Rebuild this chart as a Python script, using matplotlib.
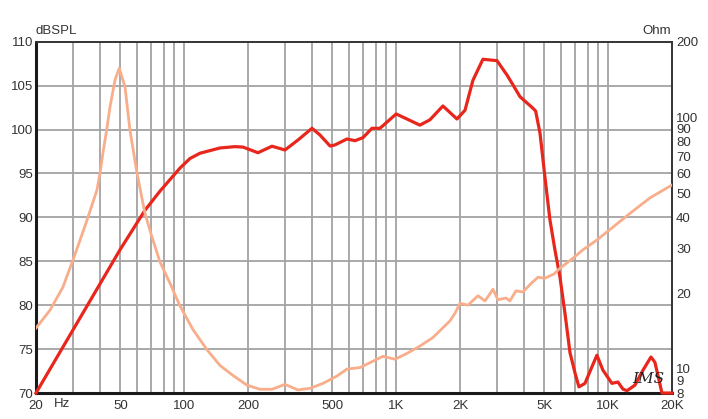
import matplotlib
matplotlib.use("Agg")
import matplotlib.pyplot as plt
from matplotlib.ticker import FixedLocator, NullLocator

# ==========================
# Data
# ==========================

# SPL response, dB
spl_freq = [20, 49.8, 65.3, 77, 95.5, 106.5, 118.7, 147.6, 173.6, 189.5,
            223, 259.6, 299, 344, 401, 437, 488, 514, 586, 640,
            697, 769, 839, 1000, 1124, 1294, 1442, 1662, 1936, 2113,
            2302, 2566, 2990, 3334, 3560, 3838, 4420, 4550, 4770, 5032,
            5316, 5610, 5926, 6254, 6607, 6975, 7280, 7775, 8390, 8850,
            9450, 10420, 11120, 11740, 12270, 13380, 14600, 15920, 16620, 17940,
            20000]
spl_db = [70, 86.3, 90.8, 93.0, 95.6, 96.7, 97.3, 97.9, 98.05, 98.0,
          97.36, 98.1, 97.67, 98.8, 100.14, 99.38, 98.12, 98.24, 98.92, 98.73,
          99.07, 100.14, 100.14, 101.77, 101.2, 100.5, 101.1, 102.68, 101.2, 102.2,
          105.6, 108.0, 107.84, 106.2, 105.07, 103.74, 102.42, 102.1, 99.6, 94.6,
          89.7, 86.3, 83.2, 79.1, 74.6, 72.3, 70.7, 71.1, 73.0, 74.3,
          72.6, 71.1, 71.25, 70.45, 70.26, 70.9, 72.6, 74.1, 73.5, 70.0,
          70.0]

# Impedance, Ohm
imp_freq = [20, 23.3, 26.8, 29.9, 32.3, 35.2, 38.8, 40.1, 41.6, 43.1,
            44.7, 47.2, 49.4, 52.6, 55.5, 59.9, 65.3, 70.5, 76.9, 85.7,
            95.5, 110.1, 128.1, 147.6, 169.9, 197.7, 228, 259.6, 299, 344,
            392, 452, 526, 586, 675, 769, 867, 987, 1124, 1294,
            1491, 1795, 1894, 2000, 2180, 2433, 2625, 2863, 3021, 3295,
            3440, 3673, 3963, 4373, 4666, 5032, 5548, 5926, 6824, 7602,
            8850, 12680, 15740, 20000]
imp_ohm = [14.5, 17.1, 21.1, 27.1, 32.5, 40.1, 51.4, 60.1, 74.1, 89.1,
           110, 141, 156.7, 132.4, 89, 60.1, 41.6, 33.4, 26.6, 21.9,
           17.8, 14.3, 11.9, 10.3, 9.4, 8.6, 8.28, 8.28, 8.66, 8.23,
           8.35, 8.74, 9.35, 9.96, 10.1, 10.66, 11.2, 10.9, 11.5, 12.3,
           13.3, 15.5, 16.6, 18.2, 17.9, 19.5, 18.6, 20.7, 18.8, 19.1,
           18.6, 20.4, 20.2, 22.0, 23.1, 22.9, 23.8, 25.1, 27.5, 29.7,
           32.5, 41.5, 47.8, 53.8]

x_ticks = [20, 50, 100, 200, 500, 1000, 2000, 5000, 10000, 20000]
x_labels = ["20", "50", "100", "200", "500", "1K", "2K", "5K", "10K", "20K"]
x_grid = [30, 40, 50, 60, 70, 80, 90,
          100, 200, 300, 400, 500, 600, 700, 800, 900,
          1000, 2000, 3000, 4000, 5000, 6000, 7000, 8000, 9000, 10000]

db_ticks = [70, 75, 80, 85, 90, 95, 100, 105, 110]
ohm_ticks = [8, 9, 10, 20, 30, 40, 50, 60, 70, 80, 90, 100, 200]

SPL_COLOR = "#e8261c"
IMP_COLOR = "#f8ad8b"
GRID_COLOR = "#a3a3a3"

plt.rcParams["font.family"] = ["Liberation Sans", "DejaVu Sans"]
plt.rcParams["font.size"] = 9.5

# ==========================
# Figure
# ==========================

fig = plt.figure(figsize=(7.08, 4.19), dpi=100)
ax = fig.add_axes([0.0508, 0.062, 0.8983, 0.8385])

ax.set_xscale("log")
ax.set_xlim(20, 20000)
ax.set_ylim(70, 110)

for f in x_grid:
    ax.axvline(f, color=GRID_COLOR, linewidth=1.3, zorder=1)
for d in db_ticks[1:-1]:
    ax.axhline(d, color=GRID_COLOR, linewidth=1.3, zorder=1)

ax.plot(spl_freq, spl_db, color=SPL_COLOR, linewidth=2.3,
        solid_joinstyle="round", zorder=3, clip_on=False)

ax.xaxis.set_major_locator(FixedLocator(x_ticks))
ax.xaxis.set_minor_locator(NullLocator())
ax.set_xticklabels(x_labels)
ax.set_yticks(db_ticks)
ax.tick_params(axis="y", length=0, pad=2, colors="#333333")
ax.tick_params(axis="x", length=0, pad=5, colors="#333333")

for side in ["left", "bottom"]:
    ax.spines[side].set_linewidth(2.2)
    ax.spines[side].set_color("#1a1a1a")
for side in ["top", "right"]:
    ax.spines[side].set_linewidth(1.4)
    ax.spines[side].set_color("#333333")

# -------- Impedance axis --------

ax2 = ax.twinx()
ax2.set_yscale("log")
ax2.set_ylim(8, 200)
ax2.plot(imp_freq, imp_ohm, color=IMP_COLOR, linewidth=2.0,
         solid_joinstyle="round", zorder=2)
ax2.yaxis.set_major_locator(FixedLocator(ohm_ticks))
ax2.yaxis.set_minor_locator(NullLocator())
ax2.set_yticklabels([str(t) for t in ohm_ticks])
ax2.tick_params(axis="y", length=0, pad=3, colors="#333333")
for side in ax2.spines:
    ax2.spines[side].set_visible(False)

# -------- Labels --------

ax.text(0.0, 1.012, "dBSPL", transform=ax.transAxes,
        ha="left", va="bottom", color="#333333")
ax.text(0.999, 1.012, "Ohm", transform=ax.transAxes,
        ha="right", va="bottom", color="#333333")
ax.text(0.041, -0.014, "Hz", transform=ax.transAxes,
        ha="center", va="top", color="#333333")
ax.text(0.963, 0.04, "IMS", transform=ax.transAxes,
        ha="center", va="center", fontsize=11, style="italic",
        family="DejaVu Serif", color="#222222")

fig.savefig("out.png", dpi=100)
